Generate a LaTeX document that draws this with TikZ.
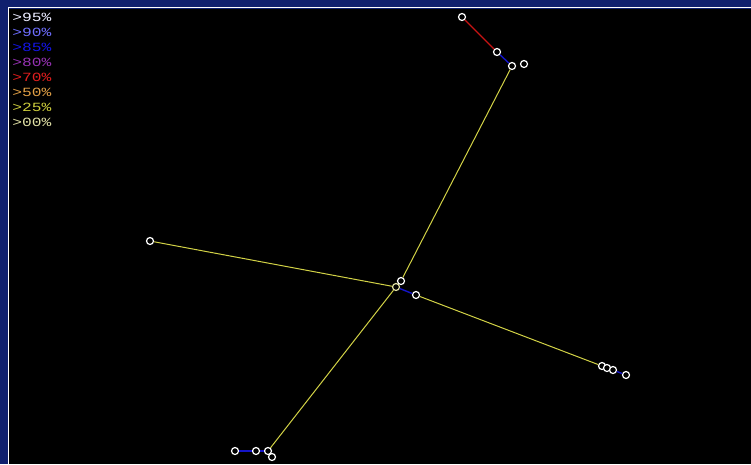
\documentclass[tikz,border=0pt]{standalone}
\usepackage{fontspec}
\setmonofont{Liberation Mono}
\definecolor{framebg}{RGB}{16,32,110}
\definecolor{c95}{RGB}{235,235,255}
\definecolor{c90}{RGB}{110,110,255}
\definecolor{c85}{RGB}{20,20,230}
\definecolor{c80}{RGB}{150,50,180}
\definecolor{c70}{RGB}{225,30,30}
\definecolor{c50}{RGB}{225,160,70}
\definecolor{c25}{RGB}{205,205,60}
\definecolor{c00}{RGB}{225,225,165}
\definecolor{linkyellow}{RGB}{210,210,70}
\definecolor{linkblue}{RGB}{20,20,200}
\definecolor{linkred}{RGB}{200,20,20}
\begin{document}
\begin{tikzpicture}[x=1pt,y=-1pt,
  pt/.style={circle,draw=white,fill=black,line width=1.2pt,inner sep=0pt,minimum size=7pt},
  leg/.style={anchor=west,inner sep=0pt,font=\ttfamily\fontsize{12.5}{12.5}\selectfont,xscale=1.3},
  yl/.style={draw=linkyellow,line width=1pt},
  bl/.style={draw=linkblue,line width=1.4pt},
  rl/.style={draw=linkred,line width=1.4pt}]
\useasboundingbox (0,0) rectangle (751,464);
\fill[framebg] (0,0) rectangle (751,464);
\fill[black] (9,9) rectangle (751,464);
\draw[white,line width=1pt] (8.5,464) -- (8.5,7.5) -- (751,7.5);
% legend
\node[leg,text=c95] (l95) at (12,17) {>95\%};
\node[leg,text=c90] (l90) at (12,32) {>90\%};
\node[leg,text=c85] (l85) at (12,47) {>85\%};
\node[leg,text=c80] (l80) at (12,62) {>80\%};
\node[leg,text=c70] (l70) at (12,77) {>70\%};
\node[leg,text=c50] (l50) at (12,92) {>50\%};
\node[leg,text=c25] (l25) at (12,107) {>25\%};
\node[leg,text=c00] (l00) at (12,122) {>00\%};
% nodes
\node[pt] (A) at (462,17) {};
\node[pt] (B) at (497,52) {};
\node[pt] (C) at (512,66) {};
\node[pt] (D) at (524,64) {};
\node[pt] (E) at (401,281) {};
\node[pt,draw=c00] (F) at (396,287) {};
\node[pt] (G) at (416,295) {};
\node[pt] (H) at (150,241) {};
\node[pt] (I) at (602,366) {};
\node[pt] (J) at (607,368) {};
\node[pt] (K) at (613,370) {};
\node[pt] (L) at (626,375) {};
\node[pt] (M) at (235,451) {};
\node[pt] (N) at (256,451) {};
\node[pt] (O) at (268,451) {};
\node[pt] (P) at (272,457) {};
% links
\draw[rl] (A) -- (B);
\draw[bl] (B) -- (C);
\draw[yl] (C) -- (E);
\draw[yl] (H) -- (F);
\draw[yl] (O) -- (F);
\draw[bl] (F) -- (G);
\draw[yl] (G) -- (I);
\draw[bl] (K) -- (L);
\draw[bl] (M) -- (N);
\draw[bl] (N) -- (O);
\end{tikzpicture}
\end{document}
